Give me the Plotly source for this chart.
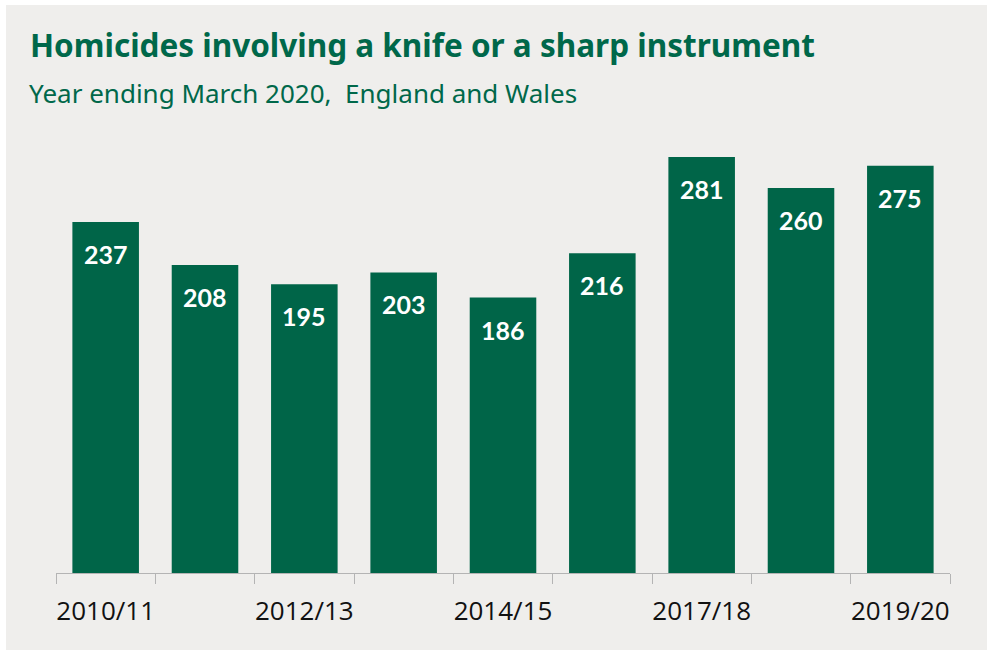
import plotly.graph_objects as go

# Financial years and homicide counts
years = ["2010/11", "2011/12", "2012/13", "2013/14", "2014/15",
         "2015/16", "2017/18", "2018/19", "2019/20"]
homicides = [237, 208, 195, 203, 186, 216, 281, 260, 275]
# Only every other year gets a printed label on the axis
labelled_years = ["2010/11", "2012/13", "2014/15", "2017/18", "2019/20"]

GREEN = "#006548"
TITLE_GREEN = "#00684a"
PANEL = "#efeeec"

tick_text = [y if y in labelled_years else "" for y in years]

fig = go.Figure()
fig.add_trace(go.Bar(
    x=years,
    y=homicides,
    marker=dict(color=GREEN, line=dict(width=0)),
    hoverinfo="x+y",
))

# Value labels sit just inside the top of each bar
annotations = [
    dict(x=yr, y=v, xref="x", yref="y", text=str(v), showarrow=False,
         yshift=-32, font=dict(family="Lato", size=25, color="white", weight="bold"))
    for yr, v in zip(years, homicides)
]

fig.update_layout(
    width=987, height=652,
    margin=dict(l=56, r=37, t=140, b=79),
    paper_bgcolor="white",
    plot_bgcolor="rgba(0,0,0,0)",
    bargap=0.33,
    showlegend=False,
    annotations=annotations,
    xaxis=dict(
        type="category",
        tickmode="array", tickvals=years, ticktext=tick_text,
        tickson="boundaries",
        tickangle=0, automargin=False,
        ticks="outside", ticklen=10, tickwidth=1, tickcolor="#b4b4b4",
        showline=True, linecolor="#b4b4b4", linewidth=1,
        showgrid=False,
        ticklabelstandoff=15,
        tickfont=dict(family="Open Sans", size=26, color="#111111"),
    ),
    yaxis=dict(range=[0, 292.4], visible=False, showgrid=False, zeroline=False,
               automargin=False),
)

# Grey panel behind everything, leaving a thin white frame
plot_w = 987 - 56 - 37
plot_h = 652 - 140 - 79
fig.add_shape(
    type="rect", xref="paper", yref="paper", layer="below",
    x0=(6 - 56) / plot_w, x1=(987 - 56) / plot_w,
    y0=(573 - 650) / plot_h, y1=(573 - 5) / plot_h,
    fillcolor=PANEL, line=dict(width=0),
)

fig.add_annotation(
    x=(28 - 56) / plot_w, y=(573 - 68) / plot_h, xref="paper", yref="paper",
    xanchor="left", yanchor="bottom", showarrow=False,
    text="<b>Homicides involving a knife or a sharp instrument</b>",
    font=dict(family="Noto Sans", size=31.5, color=TITLE_GREEN),
)
fig.add_annotation(
    x=(27 - 56) / plot_w, y=(573 - 113) / plot_h, xref="paper", yref="paper",
    xanchor="left", yanchor="bottom", showarrow=False,
    text="Year ending March 2020,  England and Wales",
    font=dict(family="Noto Sans", size=26, color=TITLE_GREEN),
)

fig.write_html("out.html")
